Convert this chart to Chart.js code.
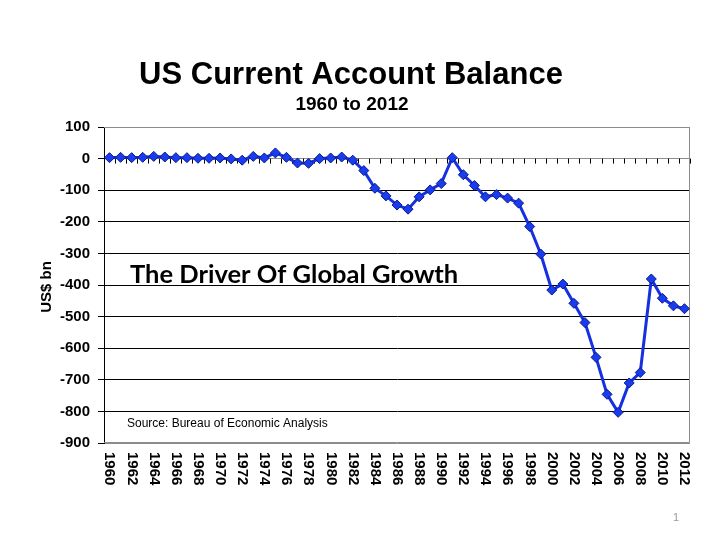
<!DOCTYPE html>
<html>
<head>
<meta charset="utf-8">
<script src="https://cdn.jsdelivr.net/npm/chart.js@4/dist/chart.umd.min.js"></script>
<style>
  html, body { margin: 0; padding: 0; background: #fff; }
  #wrap { width: 720px; height: 540px; position: relative; }
</style>
</head>
<body>
<div id="wrap"><canvas id="grafico" width="720" height="540"></canvas></div>
<script>
// datos (US$ bn)
const anios = [];
for (let a = 1960; a <= 2012; a++) anios.push(String(a));

const balance = [
  3, 4, 3, 4, 7, 5, 3, 3, 1, 1,
  2, -1, -5, 7, 2, 18, 4, -14, -15, 0,
  2, 5, -5, -38, -94, -118, -147, -160, -121, -99,
  -79, 3, -51, -85, -121, -114, -125, -141, -215, -302,
  -416, -397, -458, -519, -629, -746, -803, -710, -677, -381,
  -442, -466, -475
];

const ticksY = [100, 0, -100, -200, -300, -400, -500, -600, -700, -800, -900];

const titulo = 'US Current Account Balance';
const subtitulo = '1960 to 2012';
const ejeY = 'US$ bn';
const nota = 'The Driver Of Global Growth';
const fuente = 'Source: Bureau of Economic Analysis';

const ARIAL = '"Liberation Sans", Arial, sans-serif';

// textos, marco y etiquetas del eje x
const extras = {
  id: 'extras',
  beforeDatasetsDraw(chart) {
    const { ctx, chartArea: ca, scales } = chart;
    const x = scales.x, y = scales.y;
    const y0 = y.getPixelForValue(0);
    ctx.save();
    // marco gris
    ctx.strokeStyle = '#8c8c8c';
    ctx.lineWidth = 1;
    ctx.beginPath();
    ctx.moveTo(ca.left, ca.top + 0.5);
    ctx.lineTo(ca.right - 0.5, ca.top + 0.5);
    ctx.lineTo(ca.right - 0.5, ca.bottom - 0.5);
    ctx.lineTo(ca.left, ca.bottom - 0.5);
    ctx.stroke();
    // marcas del eje en cero
    ctx.strokeStyle = '#000';
    const paso = x.getPixelForValue(1) - x.getPixelForValue(0);
    for (let i = 0; i <= anios.length; i++) {
      const px = Math.round(x.getPixelForValue(i) - paso / 2) + 0.5;
      ctx.beginPath();
      ctx.moveTo(px, y0);
      ctx.lineTo(px, y0 + 5);
      ctx.stroke();
    }
    ctx.restore();
  },
  afterDraw(chart) {
    const { ctx, chartArea: ca, scales } = chart;
    const x = scales.x;
    ctx.save();
    ctx.fillStyle = '#000';
    ctx.textAlign = 'center';
    ctx.textBaseline = 'alphabetic';
    ctx.font = 'bold 31px ' + ARIAL;
    ctx.fillText(titulo, 351, 84);
    ctx.font = 'bold 19px ' + ARIAL;
    ctx.fillText(subtitulo, 352, 110);

    // titulo eje y
    ctx.save();
    ctx.translate(47, 287);
    ctx.rotate(-Math.PI / 2);
    ctx.textBaseline = 'middle';
    ctx.font = 'bold 15px ' + ARIAL;
    ctx.fillText(ejeY, 0, 0);
    ctx.restore();

    // etiquetas de anios, giradas en sentido horario
    ctx.font = 'bold 15px ' + ARIAL;
    ctx.textAlign = 'left';
    ctx.textBaseline = 'middle';
    anios.forEach((a, i) => {
      if (i % 2 !== 0) return;
      ctx.save();
      ctx.translate(x.getPixelForValue(i), ca.bottom + 9);
      ctx.rotate(Math.PI / 2);
      ctx.fillText(a, 0, 0);
      ctx.restore();
    });

    ctx.textBaseline = 'alphabetic';
    ctx.font = 'bold 25.5px Lato, "Open Sans", sans-serif';
    ctx.fillText(nota, 130, 283);
    ctx.font = '12px ' + ARIAL;
    ctx.fillText(fuente, 127, 427);
    ctx.fillStyle = '#999';
    ctx.font = '11px ' + ARIAL;
    ctx.fillText('1', 673, 521);
    ctx.restore();
  }
};

new Chart(document.getElementById('grafico'), {
  type: 'line',
  data: {
    labels: anios,
    datasets: [{
      data: balance,
      borderColor: '#1530e0',
      borderWidth: 3,
      pointStyle: 'rectRot',
      pointRadius: 5,
      pointBackgroundColor: '#1a3cf0',
      pointBorderColor: '#0c1a80',
      pointBorderWidth: 1,
      tension: 0
    }]
  },
  options: {
    responsive: false,
    animation: false,
    layout: { padding: { left: 0, top: 127, right: 30, bottom: 0 } },
    plugins: { legend: { display: false }, tooltip: { enabled: false } },
    scales: {
      x: {
        type: 'category',
        offset: true,
        grid: { display: false },
        border: { display: false },
        ticks: { display: false },
        afterFit(s) { s.height = 97; }
      },
      y: {
        min: -900,
        max: 100,
        afterBuildTicks(s) { s.ticks = ticksY.map(v => ({ value: v })); },
        afterFit(s) { s.width = 104; },
        border: { display: true, color: '#000', width: 1 },
        grid: {
          color: c => (c.tick && (c.tick.value === 0 || c.tick.value === 100 || c.tick.value === -900)) ? '#8c8c8c' : '#000',
          lineWidth: 1,
          tickLength: 6,
          tickColor: '#000'
        },
        ticks: {
          color: '#000',
          padding: 8,
          font: { family: ARIAL, size: 15, weight: 'bold' }
        }
      }
    }
  },
  plugins: [extras]
});
</script>
</body>
</html>
